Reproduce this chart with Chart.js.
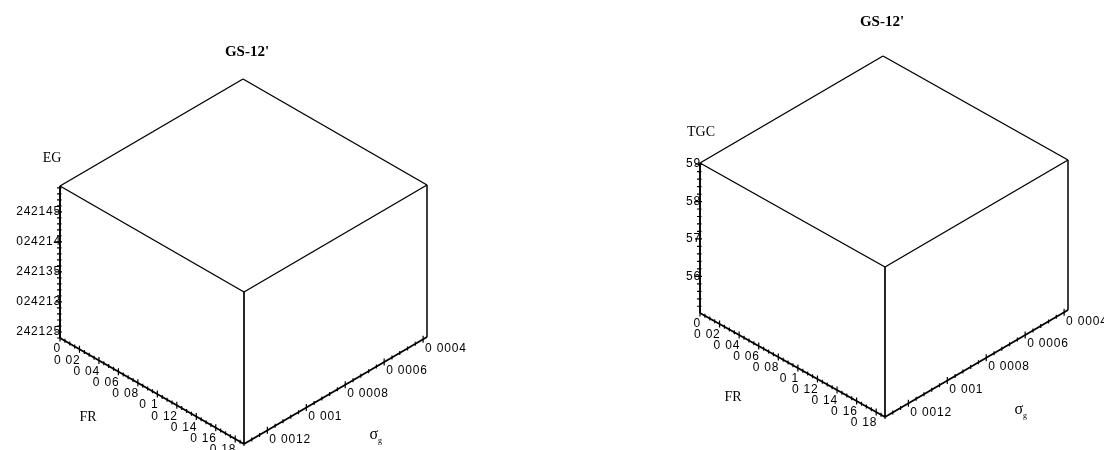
<!DOCTYPE html>
<html>
<head>
<meta charset="utf-8">
<script src="https://cdn.jsdelivr.net/npm/chart.js@4/dist/chart.umd.min.js"></script>
<style>
  html, body { margin: 0; padding: 0; background: #fff; }
  #wrap { width: 1104px; height: 450px; position: relative; }
</style>
</head>
<body>
<div id="wrap"><canvas id="c" width="1104" height="450"></canvas></div>
<script>
// Panel titles
const panelTitles = ["GS-12'", "GS-12'"];

// FR axis (shared by both boxes)
const frRange = [0, 0.189];
const frTicks = [0, 0.02, 0.04, 0.06, 0.08, 0.1, 0.12, 0.14, 0.16, 0.18];
const frTickLabels = ['0', '0 02', '0 04', '0 06', '0 08', '0 1', '0 12', '0 14', '0 16', '0 18'];
const frMinorStep = 0.005;

// sigma_g axis (shared by both boxes)
const sigmaRange = [0.00038, 0.00132];
const sigmaTicks = [0.0004, 0.0006, 0.0008, 0.001, 0.0012];
const sigmaTickLabels = ['0 0004', '0 0006', '0 0008', '0 001', '0 0012'];
const sigmaMinorStep = 0.00004;

// EG axis (left box)
const egRange = [242124, 242149.3];
const egTicks = [242125, 242130, 242135, 242140, 242145];
const egTickLabels = ['242125', '024213', '242135', '024214', '242145'];
const egMinorStep = 1;

// TGC axis (right box)
const tgcRange = [55.02, 59.03];
const tgcTicks = [56, 57, 58, 59];
const tgcTickLabels = ['56', '57', '58', '59'];
const tgcMinorStep = 0.2;

// Oblique projection of each box onto the sheet
const panels = [
  {
    title: panelTitles[0], zName: 'EG',
    zRange: egRange, zTicks: egTicks, zLabels: egTickLabels, zMinor: egMinorStep,
    origin: [60, 338], frVec: [184, 106], sigVec: [183, -107], up: 152,
    titlePos: [247, 52], zTitlePos: [52, 158], frTitlePos: [88, 417], sigTitlePos: [375, 436]
  },
  {
    title: panelTitles[1], zName: 'TGC',
    zRange: tgcRange, zTicks: tgcTicks, zLabels: tgcTickLabels, zMinor: tgcMinorStep,
    origin: [700, 313], frVec: [185, 104], sigVec: [183, -107], up: 150,
    titlePos: [882, 22], zTitlePos: [701, 132], frTitlePos: [733, 397], sigTitlePos: [1020, 411]
  }
];

function frac(r, v) { return (v - r[0]) / (r[1] - r[0]); }

function project(p, fr, sig, z) {
  const u = frac(frRange, fr);
  const v = (sigmaRange[1] - sig) / (sigmaRange[1] - sigmaRange[0]);
  const w = frac(p.zRange, z);
  return {
    x: p.origin[0] + u * p.frVec[0] + v * p.sigVec[0],
    y: p.origin[1] + u * p.frVec[1] + v * p.sigVec[1] - w * p.up
  };
}

function minorValues(range, step) {
  const out = [];
  const k0 = Math.ceil(range[0] / step - 1e-9), k1 = Math.floor(range[1] / step + 1e-9);
  for (let k = k0; k <= k1; k++) out.push(k * step);
  return out;
}

// Visible edges of each box; the three axis edges are drawn a little heavier
const datasets = [];
panels.forEach(p => {
  const fA = frRange[0], fB = frRange[1];
  const sHi = sigmaRange[1], sLo = sigmaRange[0];
  const zLo = p.zRange[0], zHi = p.zRange[1];
  const edges = [
    [[fA, sHi, zHi], [fB, sHi, zHi], 1.4],
    [[fB, sHi, zHi], [fB, sLo, zHi], 1.4],
    [[fB, sLo, zHi], [fA, sLo, zHi], 1.4],
    [[fA, sLo, zHi], [fA, sHi, zHi], 1.4],
    [[fA, sHi, zLo], [fA, sHi, zHi], 1.9],
    [[fB, sHi, zLo], [fB, sHi, zHi], 1.7],
    [[fB, sLo, zLo], [fB, sLo, zHi], 1.5],
    [[fA, sHi, zLo], [fB, sHi, zLo], 1.8],
    [[fB, sHi, zLo], [fB, sLo, zLo], 1.8]
  ];
  edges.forEach(e => {
    datasets.push({
      data: [e[0], e[1]].map(c => project(p, c[0], c[1], c[2])),
      showLine: true,
      borderColor: '#000',
      borderWidth: e[2],
      pointRadius: 0,
      fill: false,
      tension: 0
    });
  });
});

// Axis ticks, tick labels and titles
const boxAxes = {
  id: 'boxAxes',
  afterDatasetsDraw(chart) {
    const ctx = chart.ctx;
    const sx = chart.scales.x, sy = chart.scales.y;
    const px = pt => ({ x: sx.getPixelForValue(pt.x), y: sy.getPixelForValue(pt.y) });
    const seg = (x1, y1, x2, y2) => { ctx.moveTo(x1, y1); ctx.lineTo(x2, y2); };
    ctx.save();
    ctx.strokeStyle = '#000';
    ctx.fillStyle = '#000';
    ctx.lineWidth = 1.2;

    panels.forEach(p => {
      const fA = frRange[0], fB = frRange[1];
      const sHi = sigmaRange[1];
      const zLo = p.zRange[0];

      ctx.beginPath();
      // vertical axis ticks
      minorValues(p.zRange, p.zMinor).forEach(z => {
        const q = px(project(p, fA, sHi, z));
        seg(q.x - 3, q.y, q.x + 1.5, q.y);
      });
      p.zTicks.forEach(z => {
        const q = px(project(p, fA, sHi, z));
        seg(q.x - 5, q.y, q.x + 2, q.y);
      });
      // FR axis ticks
      minorValues(frRange, frMinorStep).forEach(f => {
        const q = px(project(p, f, sHi, zLo));
        seg(q.x, q.y - 2, q.x, q.y + 2);
      });
      frTicks.forEach(f => {
        const q = px(project(p, f, sHi, zLo));
        seg(q.x, q.y - 3.5, q.x, q.y + 3.5);
      });
      // sigma_g axis ticks
      minorValues(sigmaRange, sigmaMinorStep).forEach(s => {
        const q = px(project(p, fB, s, zLo));
        seg(q.x, q.y - 2, q.x, q.y + 2);
      });
      sigmaTicks.forEach(s => {
        const q = px(project(p, fB, s, zLo));
        seg(q.x, q.y - 3.5, q.x, q.y + 3.5);
      });
      ctx.stroke();

      // tick labels
      ctx.font = '12px "Liberation Sans", Arial, sans-serif';
      ctx.letterSpacing = '0.8px';
      ctx.textAlign = 'right';
      ctx.textBaseline = 'middle';
      p.zTicks.forEach((z, i) => {
        const q = px(project(p, fA, sHi, z));
        ctx.fillText(p.zLabels[i], q.x + 1, q.y);
      });
      ctx.textBaseline = 'top';
      frTicks.forEach((f, i) => {
        const q = px(project(p, f, sHi, zLo));
        ctx.fillText(frTickLabels[i], q.x + 1, q.y + 5);
      });
      ctx.textAlign = 'left';
      ctx.textBaseline = 'middle';
      sigmaTicks.forEach((s, i) => {
        const q = px(project(p, fB, s, zLo));
        ctx.fillText(sigmaTickLabels[i], q.x + 2, q.y + 9);
      });
      ctx.letterSpacing = '0px';

      // titles
      ctx.textAlign = 'center';
      ctx.textBaseline = 'middle';
      ctx.font = 'bold 15px "Liberation Serif", "Times New Roman", serif';
      ctx.fillText(p.title, p.titlePos[0], p.titlePos[1]);
      ctx.font = '14px "Liberation Serif", "Times New Roman", serif';
      ctx.fillText(p.zName, p.zTitlePos[0], p.zTitlePos[1]);
      ctx.fillText('FR', p.frTitlePos[0], p.frTitlePos[1]);
      // sigma with subscript g
      ctx.font = '16px "Liberation Serif", "Times New Roman", serif';
      ctx.textAlign = 'right';
      ctx.fillText('σ', p.sigTitlePos[0] + 3, p.sigTitlePos[1] - 1);
      ctx.font = '8px "Liberation Serif", "Times New Roman", serif';
      ctx.textAlign = 'left';
      ctx.fillText('g', p.sigTitlePos[0] + 3, p.sigTitlePos[1] + 5);
    });
    ctx.restore();
  }
};

new Chart(document.getElementById('c'), {
  type: 'scatter',
  data: { datasets },
  options: {
    responsive: false,
    devicePixelRatio: 1,
    animation: false,
    layout: { padding: 0 },
    plugins: { legend: { display: false }, tooltip: { enabled: false }, title: { display: false } },
    scales: {
      x: { type: 'linear', min: 0, max: 1104, display: false },
      y: { type: 'linear', min: 0, max: 450, reverse: true, display: false }
    }
  },
  plugins: [boxAxes]
});
</script>
</body>
</html>
